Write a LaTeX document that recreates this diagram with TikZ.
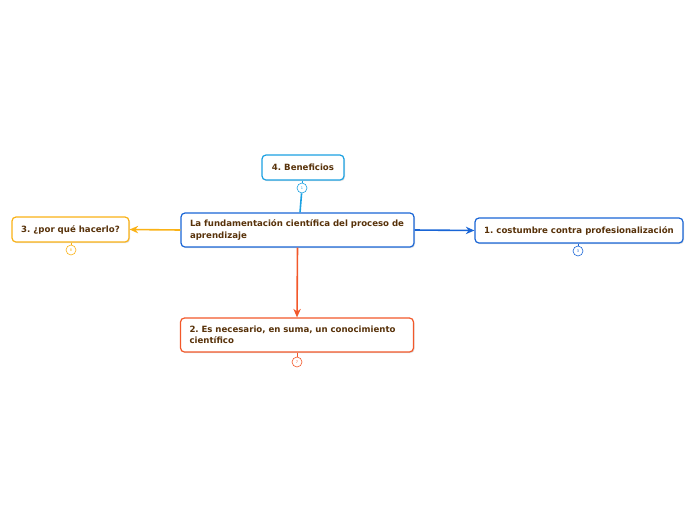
\documentclass[tikz,border=0pt]{standalone}
\usepackage{fontspec}
\setmainfont{DejaVu Sans}
\usetikzlibrary{arrows.meta,shadows}
\definecolor{mmblue}{RGB}{25,101,214}
\definecolor{mmsky}{RGB}{27,161,226}
\definecolor{mmyellow}{RGB}{250,178,22}
\definecolor{mmorange}{RGB}{242,88,42}
\definecolor{mmtext}{RGB}{88,50,10}
\frenchspacing
\hyphenpenalty=10000
\exhyphenpenalty=10000

\begin{document}
\begin{tikzpicture}[
    x=1pt, y=-1pt,
    >={Stealth[length=3mm,width=2.6mm]},
    topic/.style={rectangle, rounded corners=4pt, draw, fill=white, line width=1.2pt,
      font=\bfseries\fontsize{8.6}{11.5}\selectfont,
      text=mmtext, inner xsep=9pt, inner ysep=0pt,
      drop shadow={shadow xshift=1pt, shadow yshift=-1.2pt, opacity=0.25}},
    onerow/.style={topic, minimum height=25pt, align=center},
    tworow/.style={topic, minimum height=34pt, text width=#1, align=left},
    count/.style={circle, draw, fill=white, line width=0.6pt, minimum size=10pt, inner sep=0pt,
      font=\fontsize{3.5}{4}\selectfont},
    link/.style={line width=1.6pt},
    stub/.style={line width=1pt},
  ]
  \useasboundingbox (0,0) rectangle (696,520);

  %% ================= central topic =================
  \node[tworow=215pt, draw=mmblue] (root) at (297.5,230)
    {La fundamentación científica del proceso de aprendizaje};

  %% ================= the four branches =================
  \node[onerow, draw=mmsky, minimum width=82pt]     (benef) at (303,167.5) {4. Beneficios};
  \node[onerow, draw=mmyellow, minimum width=117pt] (why)   at (70.5,229.5) {3. ¿por qué hacerlo?};
  \node[onerow, draw=mmblue, minimum width=208pt]   (habit) at (579,230.5) {1. costumbre contra profesionalización};
  \node[tworow=215pt, draw=mmorange]                (need)  at (297,335)
    {2. Es necesario, en suma, un conocimiento científico};

  % the little counters below each branch
  \node[count, draw=mmsky, text=mmsky]       (benefN) at (302,188) {1};
  \node[count, draw=mmyellow, text=mmyellow] (whyN)   at (71,250)  {8};
  \node[count, draw=mmblue, text=mmblue]     (habitN) at (578,251) {3};
  \node[count, draw=mmorange, text=mmorange] (needN)  at (297,362) {7};
  \draw[stub, mmsky]    (benefN) -- (benefN |- benef.south);
  \draw[stub, mmyellow] (whyN)   -- (whyN |- why.south);
  \draw[stub, mmblue]   (habitN) -- (habitN |- habit.south);
  \draw[stub, mmorange] (needN)  -- (needN |- need.south);

  %% ================= connectors =================
  \draw[link, mmsky]        ([xshift=2.5pt]root.north) -- (benefN);
  \draw[link, mmyellow, ->] (root.west) -- (why.east);
  \draw[link, mmblue, ->]   (root.east) -- (habit.west);
  \draw[link, mmorange, ->] (root.south) -- (need.north);

\end{tikzpicture}
\end{document}
